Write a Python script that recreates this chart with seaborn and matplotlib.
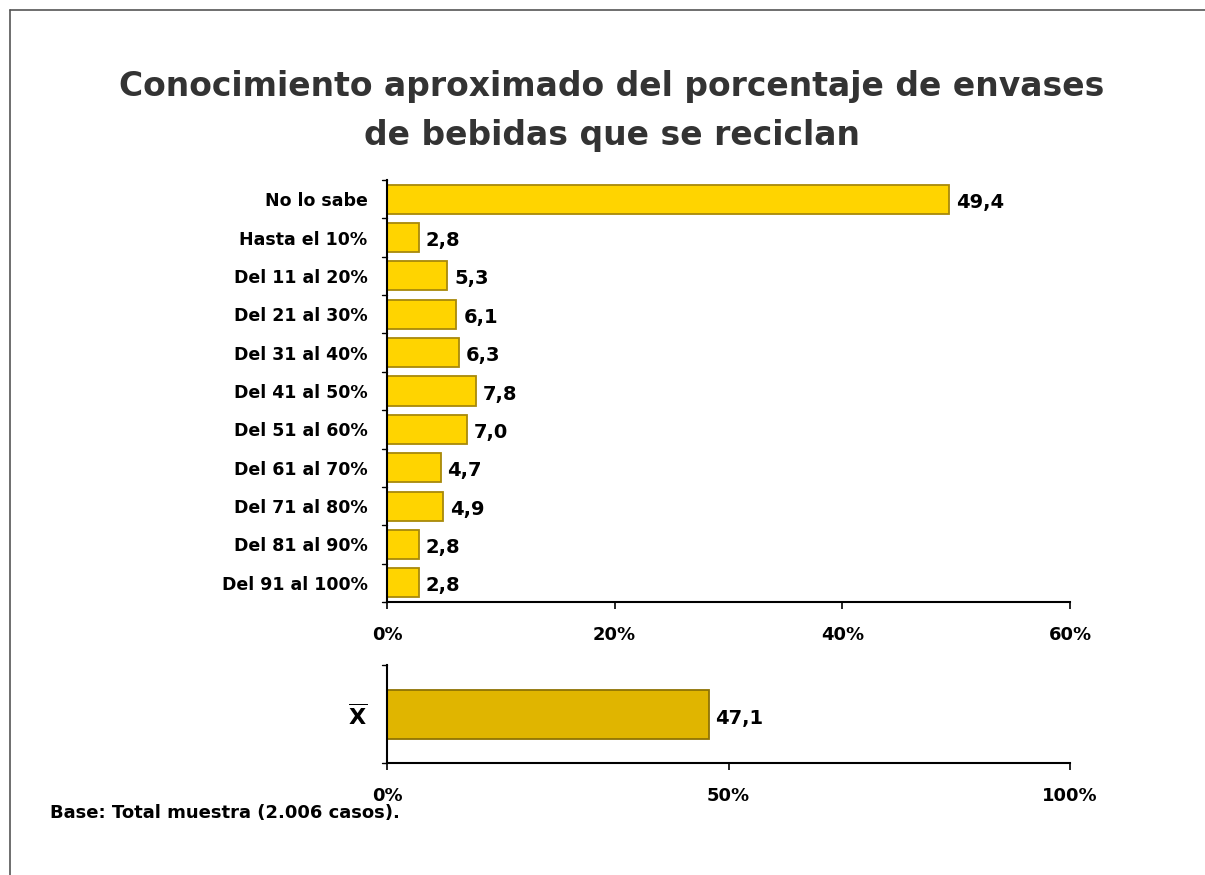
import matplotlib
matplotlib.use("Agg")
import matplotlib.pyplot as plt
import seaborn as sns
import pandas as pd
from matplotlib.lines import Line2D

categories = ["No lo sabe", "Hasta el 10%", "Del 11 al 20%", "Del 21 al 30%", "Del 31 al 40%",
              "Del 41 al 50%", "Del 51 al 60%", "Del 61 al 70%", "Del 71 al 80%",
              "Del 81 al 90%", "Del 91 al 100%"]
values = [49.4, 2.8, 5.3, 6.1, 6.3, 7.8, 7.0, 4.7, 4.9, 2.8, 2.8]
mean_label = [r"$\overline{\mathbf{X}}$"]
mean_value = [47.1]
x1_ticks = [0, 20, 40, 60]
x2_ticks = [0, 50, 100]

sns.set_theme(style="white")
plt.rcParams["font.family"] = ["DejaVu Sans"]

fig = plt.figure(figsize=(12.05, 8.75), dpi=100)

# frame border
fig.add_artist(Line2D([10/1205, 10/1205], [0, 1-10/875], color="#555555", lw=1.2, transform=fig.transFigure))
fig.add_artist(Line2D([10/1205, 1], [1-10/875, 1-10/875], color="#555555", lw=1.2, transform=fig.transFigure))

fig.text(0.508, 1-111/875, "Conocimiento aproximado del porcentaje de envases\nde bebidas que se reciclan",
         ha="center", va="center", fontsize=23.8, fontweight="bold", color="#333333", linespacing=1.6)

def style_axes(ax, ticks, nbounds):
    ax.set_xlabel("")
    ax.set_ylabel("")
    ax.set_xticks(ticks)
    ax.set_xticklabels([f"{t}%" for t in ticks], fontsize=13, fontweight="bold", color="black")
    ax.tick_params(axis="y", length=0, pad=14)
    ax.tick_params(axis="x", bottom=True, length=5, width=1.2, direction="out", pad=12, color="black")
    for b in nbounds:
        ax.plot([-0.008, 0], [b, b], transform=ax.get_yaxis_transform(), color="black", lw=1, clip_on=False)
    for s in ["top", "right"]:
        ax.spines[s].set_visible(False)
    for s in ["left", "bottom"]:
        ax.spines[s].set_color("black")
        ax.spines[s].set_linewidth(1.5)

ax1 = fig.add_axes([387/1205, 1-602/875, (1070-387)/1205, (602-180)/875])
df1 = pd.DataFrame({"cat": categories, "val": values})
sns.barplot(data=df1, x="val", y="cat", ax=ax1, color="#FFD400", edgecolor="#A8890A",
            linewidth=1.3, width=0.76, saturation=1)
ax1.set_xlim(0, 60)
ax1.set_ylim(len(categories) - 0.5, -0.5)
for i, v in enumerate(values):
    ax1.text(v + 0.6, i + 0.08, f"{v:.1f}".replace(".", ","), va="center", ha="left",
             fontsize=14, fontweight="bold", color="black")
ax1.set_yticks(range(len(categories)))
ax1.set_yticklabels(categories, fontsize=12.5, fontweight="bold", color="black")
style_axes(ax1, x1_ticks, [i - 0.5 for i in range(len(categories) + 1)])

ax2 = fig.add_axes([387/1205, 1-763/875, (1070-387)/1205, (763-665)/875])
df2 = pd.DataFrame({"cat": mean_label, "val": mean_value})
sns.barplot(data=df2, x="val", y="cat", ax=ax2, color="#E0B500", edgecolor="#8F7304",
            linewidth=1.3, width=0.5, saturation=1)
ax2.set_xlim(0, 100)
ax2.set_ylim(0.5, -0.5)
ax2.text(mean_value[0] + 1.0, 0.05, f"{mean_value[0]:.1f}".replace(".", ","), va="center", ha="left",
         fontsize=14, fontweight="bold", color="black")
ax2.set_yticks([0])
ax2.set_yticklabels(mean_label, fontsize=16, fontweight="bold", color="black")
style_axes(ax2, x2_ticks, [-0.5, 0.5])

fig.text(50/1205, 1-813/875, "Base: Total muestra (2.006 casos).", ha="left", va="center",
         fontsize=13, fontweight="bold", color="black")

fig.savefig("out.png", dpi=100)
